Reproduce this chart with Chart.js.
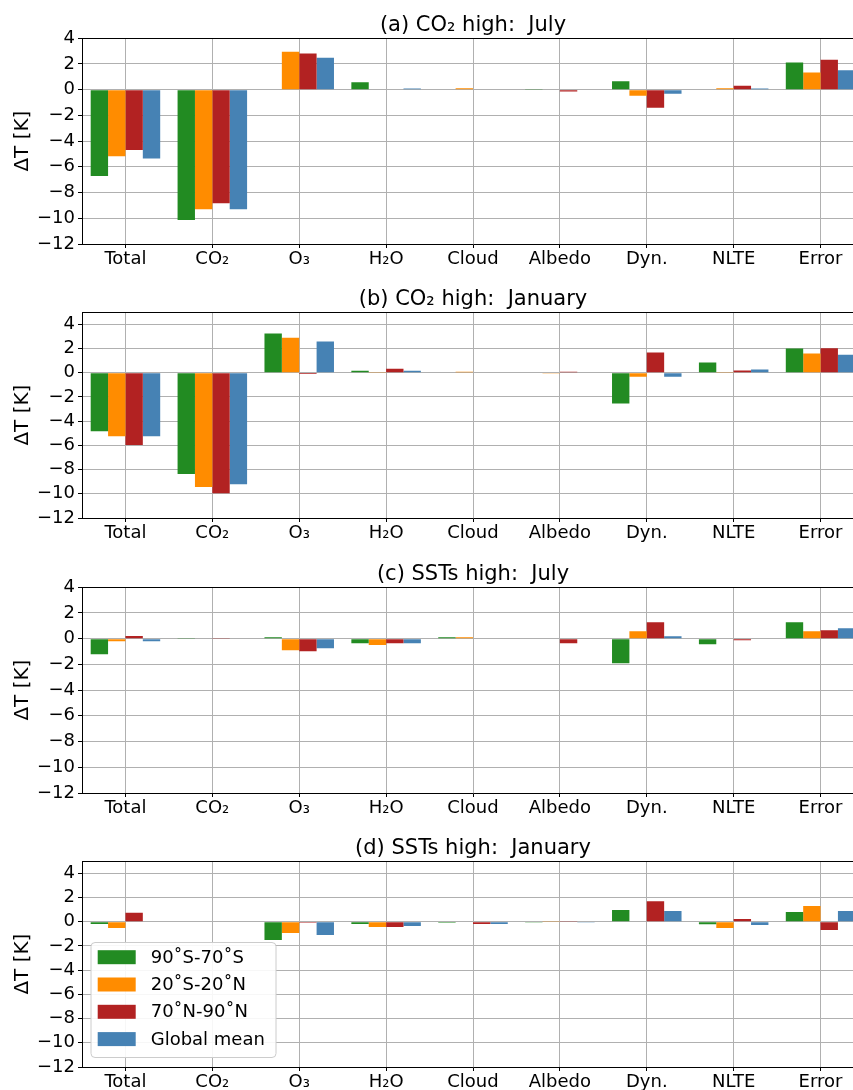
<!DOCTYPE html>
<html>
<head>
<meta charset="utf-8">
<script src="https://cdn.jsdelivr.net/npm/chart.js@4.4.1/dist/chart.umd.min.js"></script>
<style>
  html, body { margin: 0; padding: 0; background: #fff; overflow: hidden; }
  #page { position: relative; width: 853px; height: 1090px; overflow: hidden; background: #fff; }
  #page canvas { position: absolute; left: 0; }
</style>
</head>
<body>
<div id="page">
  <canvas id="panelA" width="864" height="274" style="top:8px"></canvas>
  <canvas id="panelB" width="864" height="274" style="top:282px"></canvas>
  <canvas id="panelC" width="864" height="274" style="top:557px"></canvas>
  <canvas id="panelD" width="864" height="274" style="top:831px"></canvas>
</div>
<script>
// Temperature-change decomposition by process, per latitude band
const categories = ['Total', 'CO\u2082', 'O\u2083', 'H\u2082O', 'Cloud', 'Albedo', 'Dyn.', 'NLTE', 'Error'];
const regions = ['90\u02daS-70\u02daS', '20\u02daS-20\u02daN', '70\u02daN-90\u02daN', 'Global mean'];

// (a) CO2 high: July
const co2JulSouth  = [-6.72, -10.13, 0.00, 0.57, 0.00, 0.02, 0.65, 0.00, 2.12];
const co2JulTrop   = [-5.17, -9.30, 2.95, 0.00, 0.10, 0.00, -0.47, 0.10, 1.34];
const co2JulNorth  = [-4.70, -8.84, 2.82, 0.00, 0.00, -0.15, -1.40, 0.31, 2.33];
const co2JulGlobal = [-5.35, -9.30, 2.48, 0.08, 0.00, 0.00, -0.31, 0.08, 1.50];

// (b) CO2 high: January
const co2JanSouth  = [-4.83, -8.37, 3.24, 0.16, -0.05, -0.04, -2.55, 0.85, 2.00];
const co2JanTrop   = [-5.24, -9.44, 2.88, 0.05, 0.08, -0.03, -0.33, 0.05, 1.59];
const co2JanNorth  = [-5.96, -9.96, -0.10, 0.33, -0.05, 0.08, 1.67, 0.19, 2.03];
const co2JanGlobal = [-5.24, -9.22, 2.58, 0.16, -0.05, -0.04, -0.33, 0.27, 1.48];

// (c) SSTs high: July
const sstJulSouth  = [-1.21, 0.02, 0.10, -0.36, 0.10, 0.03, -1.91, -0.44, 1.27];
const sstJulTrop   = [-0.21, 0.00, -0.90, -0.49, 0.10, 0.00, 0.57, 0.00, 0.57];
const sstJulNorth  = [0.21, 0.02, -0.98, -0.36, 0.00, -0.36, 1.27, -0.13, 0.65];
const sstJulGlobal = [-0.21, 0.00, -0.75, -0.36, 0.00, 0.00, 0.18, 0.00, 0.80];

// (d) SSTs high: January
const sstJanSouth  = [-0.19, 0.03, -1.51, -0.19, -0.08, -0.06, 0.96, -0.20, 0.80];
const sstJanTrop   = [-0.52, 0.03, -0.93, -0.44, -0.05, 0.05, 0.03, -0.52, 1.29];
const sstJanNorth  = [0.74, 0.03, -0.08, -0.44, -0.19, 0.05, 1.70, 0.22, -0.69];
const sstJanGlobal = [0.03, 0.03, -1.10, -0.36, -0.19, -0.06, 0.88, -0.27, 0.88];

const yTicks = [-12, -10, -8, -6, -4, -2, 0, 2, 4];
const yMin = -12;

const panelTitles = [
  '(a) CO\u2082 high:  July',
  '(b) CO\u2082 high:  January',
  '(c) SSTs high:  July',
  '(d) SSTs high:  January'
];

const regionColors = ['#228B22', '#FF8C00', '#B22222', '#4682B4'];
const FONT = 'DejaVu Sans';

// top spine of the axes box
const topSpine = {
  id: 'topSpine',
  afterDatasetsDraw(chart) {
    const { ctx, chartArea: a } = chart;
    ctx.save();
    ctx.strokeStyle = '#000';
    ctx.lineWidth = 1;
    ctx.beginPath();
    ctx.moveTo(a.left, Math.round(a.top) + 0.5);
    ctx.lineTo(a.right, Math.round(a.top) + 0.5);
    ctx.stroke();
    ctx.restore();
  }
};

// legend box in the lower-left corner of the axes
const cornerLegend = {
  id: 'cornerLegend',
  afterDraw(chart) {
    const { ctx, chartArea: a } = chart;
    const w = 185, h = 115, r = 4;
    const x0 = a.left + 9, y0 = a.bottom - 9.5 - h;
    ctx.save();
    ctx.beginPath();
    ctx.moveTo(x0 + r, y0);
    ctx.lineTo(x0 + w - r, y0);
    ctx.arcTo(x0 + w, y0, x0 + w, y0 + r, r);
    ctx.lineTo(x0 + w, y0 + h - r);
    ctx.arcTo(x0 + w, y0 + h, x0 + w - r, y0 + h, r);
    ctx.lineTo(x0 + r, y0 + h);
    ctx.arcTo(x0, y0 + h, x0, y0 + h - r, r);
    ctx.lineTo(x0, y0 + r);
    ctx.arcTo(x0, y0, x0 + r, y0, r);
    ctx.closePath();
    ctx.fillStyle = 'rgba(255,255,255,0.9)';
    ctx.fill();
    ctx.strokeStyle = '#cccccc';
    ctx.lineWidth = 1;
    ctx.stroke();
    ctx.font = '18px "' + FONT + '"';
    ctx.textBaseline = 'middle';
    ctx.fillStyle = '#000';
    chart.data.datasets.forEach((ds, i) => {
      const cy = y0 + 14.7 + i * 27.3;
      ctx.fillStyle = ds.backgroundColor;
      ctx.fillRect(x0 + 6.7, cy - 7, 38, 14);
      ctx.fillStyle = '#000';
      ctx.fillText(ds.label, x0 + 59.7, cy + 1);
    });
    ctx.restore();
  }
};

function makePanel(id, title, series, yMax, withLegend) {
  const datasets = series.map((vals, i) => ({
    label: regions[i],
    data: vals,
    backgroundColor: regionColors[i],
    borderWidth: 0,
    categoryPercentage: 0.8,
    barPercentage: 1.0
  }));
  return new Chart(document.getElementById(id), {
    type: 'bar',
    data: { labels: categories, datasets },
    plugins: withLegend ? [topSpine, cornerLegend] : [topSpine],
    options: {
      responsive: false,
      devicePixelRatio: 1,
      animation: false,
      layout: { padding: { top: 5, left: 0, right: 0, bottom: 0 } },
      plugins: {
        legend: { display: false },
        tooltip: { enabled: false },
        title: {
          display: true,
          text: title,
          fullSize: false,
          color: '#000',
          font: { family: FONT, size: 21, weight: 'normal', lineHeight: 1.2 },
          padding: { top: 0, bottom: 0 }
        }
      },
      scales: {
        x: {
          type: 'category',
          offset: true,
          grid: { offset: false, color: '#b0b0b0', lineWidth: 1, drawTicks: true, tickLength: 4, tickColor: '#000' },
          border: { display: true, color: '#000', width: 1 },
          ticks: { color: '#000', font: { family: FONT, size: 18 }, padding: 1, maxRotation: 0, autoSkip: false },
          afterFit(s) { s.height = 38; }
        },
        y: {
          min: yMin,
          max: yMax,
          grid: { color: '#b0b0b0', lineWidth: 1, drawTicks: true, tickLength: 4, tickColor: '#000' },
          border: { display: true, color: '#000', width: 1 },
          ticks: {
            color: '#000',
            font: { family: FONT, size: 18 },
            padding: 3,
            callback: v => (v < 0 ? '\u2212' + Math.abs(v) : String(v))
          },
          afterBuildTicks(s) { s.ticks = yTicks.map(v => ({ value: v })); },
          afterFit(s) { s.width = 82; },
          title: {
            display: true,
            text: '\u0394T [K]',
            color: '#000',
            font: { family: FONT, size: 20, lineHeight: 1.2 },
            padding: { top: 11, bottom: 0 }
          }
        }
      }
    }
  });
}

makePanel('panelA', panelTitles[0], [co2JulSouth, co2JulTrop, co2JulNorth, co2JulGlobal], 4, false);
makePanel('panelB', panelTitles[1], [co2JanSouth, co2JanTrop, co2JanNorth, co2JanGlobal], 5, false);
makePanel('panelC', panelTitles[2], [sstJulSouth, sstJulTrop, sstJulNorth, sstJulGlobal], 4, false);
makePanel('panelD', panelTitles[3], [sstJanSouth, sstJanTrop, sstJanNorth, sstJanGlobal], 5, true);
</script>
</body>
</html>
